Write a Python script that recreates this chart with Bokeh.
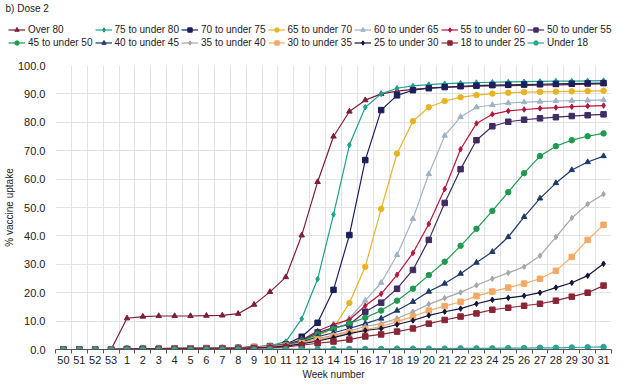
from bokeh.plotting import figure
from bokeh.models import (FixedTicker, SingleIntervalTicker, Legend, LegendItem,
                          Range1d, ColumnDataSource, NumeralTickFormatter)
from bokeh.embed import file_html
from bokeh.resources import INLINE

weeks = ["50", "51", "52", "53", "1", "2", "3", "4", "5", "6", "7", "8", "9", "10",
         "11", "12", "13", "14", "15", "16", "17", "18", "19", "20", "21", "22",
         "23", "24", "25", "26", "27", "28", "29", "30", "31"]

series_names = ["Over 80", "75 to under 80", "70 to under 75", "65 to under 70",
                "60 to under 65", "55 to under 60", "50 to under 55",
                "45 to under 50", "40 to under 45", "35 to under 40",
                "30 to under 35", "25 to under 30", "18 to under 25", "Under 18"]

over_80 = [0, 0, 0, 0, 11.0, 11.6, 11.8, 11.8, 11.8, 11.9, 12.0, 12.6, 15.8, 20.3,
           25.5, 40.2, 59.0, 75.0, 83.8, 87.8, 90.0, 91.0, 91.6, 92.0, 92.3, 92.5,
           92.7, 92.8, 92.9, 93.0, 93.1, 93.2, 93.3, 93.4, 93.5]
age_75_80 = [0, 0, 0, 0, 0.1, 0.2, 0.2, 0.3, 0.3, 0.4, 0.4, 0.5, 0.8, 1.3,
             2.8, 10.8, 24.8, 47.5, 72.0, 85.3, 90.0, 92.0, 92.8, 93.3, 93.6, 93.8,
             94.0, 94.1, 94.2, 94.3, 94.4, 94.5, 94.5, 94.6, 94.7]
age_70_75 = [0, 0, 0, 0, 0.1, 0.2, 0.2, 0.3, 0.3, 0.4, 0.4, 0.5, 0.7, 1.0,
             1.8, 4.5, 9.4, 21.0, 40.3, 66.7, 84.3, 89.5, 91.3, 92.0, 92.4, 92.7,
             92.9, 93.1, 93.2, 93.3, 93.4, 93.5, 93.6, 93.7, 93.8]
age_65_70 = [0, 0, 0, 0, 0.1, 0.2, 0.2, 0.3, 0.3, 0.4, 0.4, 0.5, 0.7, 1.0,
             1.6, 3.0, 4.8, 7.5, 16.4, 29.1, 49.5, 69.0, 80.4, 85.3, 87.5, 88.8,
             89.6, 90.1, 90.4, 90.6, 90.7, 90.8, 90.9, 91.0, 91.1]
age_60_65 = [0, 0, 0, 0, 0.2, 0.3, 0.3, 0.4, 0.4, 0.5, 0.5, 0.6, 0.9, 1.3,
             1.9, 3.4, 5.5, 7.9, 11.0, 17.2, 23.5, 33.3, 46.0, 61.8, 75.3, 81.9,
             85.3, 86.1, 86.8, 87.1, 87.3, 87.5, 87.6, 87.7, 87.9]
age_55_60 = [0, 0, 0, 0, 0.2, 0.3, 0.3, 0.4, 0.4, 0.5, 0.5, 0.6, 0.9, 1.2,
             1.8, 3.3, 6.5, 8.8, 10.5, 15.4, 19.6, 26.3, 34.0, 44.2, 56.5, 70.5,
             79.6, 82.8, 84.0, 84.5, 84.9, 85.2, 85.5, 85.7, 85.9]
age_50_55 = [0, 0, 0, 0, 0.2, 0.3, 0.3, 0.4, 0.4, 0.5, 0.5, 0.6, 0.9, 1.2,
             1.7, 3.1, 6.0, 7.6, 8.8, 13.3, 16.5, 21.4, 28.0, 38.6, 51.6, 63.5,
             73.7, 78.6, 80.2, 80.9, 81.4, 81.8, 82.2, 82.5, 82.8]
age_45_50 = [0, 0, 0, 0, 0.2, 0.3, 0.3, 0.3, 0.4, 0.4, 0.5, 0.6, 0.8, 1.1,
             1.6, 2.9, 5.4, 7.3, 9.2, 11.2, 13.7, 17.2, 21.4, 26.2, 30.9, 36.5,
             42.5, 48.8, 55.4, 62.1, 68.1, 71.6, 73.7, 75.1, 76.1]
age_40_45 = [0, 0, 0, 0, 0.2, 0.3, 0.3, 0.3, 0.4, 0.4, 0.5, 0.6, 0.8, 1.0,
             1.5, 2.6, 4.5, 5.9, 7.4, 9.1, 10.9, 13.7, 16.8, 20.4, 23.2, 26.7,
             30.6, 34.4, 39.6, 46.7, 53.2, 58.6, 63.2, 66.0, 68.1]
age_35_40 = [0, 0, 0, 0, 0.2, 0.3, 0.3, 0.3, 0.4, 0.4, 0.5, 0.5, 0.7, 1.0,
             1.4, 2.4, 3.8, 5.0, 6.5, 8.1, 9.1, 10.9, 13.3, 15.9, 18.1, 20.1,
             22.6, 24.9, 27.0, 29.1, 33.0, 39.6, 46.3, 51.2, 54.7]
age_30_35 = [0, 0, 0, 0, 0.1, 0.2, 0.3, 0.3, 0.3, 0.4, 0.4, 0.5, 0.7, 0.9,
             1.3, 2.2, 3.5, 4.6, 6.0, 7.0, 8.1, 9.8, 11.6, 13.7, 15.3, 16.8,
             18.8, 20.4, 21.8, 23.2, 24.9, 27.7, 32.6, 38.6, 43.9]
age_25_30 = [0, 0, 0, 0, 0.1, 0.2, 0.2, 0.3, 0.3, 0.3, 0.4, 0.4, 0.6, 0.8,
             1.2, 2.0, 3.0, 4.2, 5.6, 6.7, 7.4, 8.8, 10.2, 12.0, 13.3, 14.4,
             16.1, 17.5, 18.2, 18.9, 20.0, 21.8, 23.5, 26.0, 30.2]
age_18_25 = [0, 0, 0, 0, 0.1, 0.1, 0.2, 0.2, 0.2, 0.3, 0.3, 0.3, 0.5, 0.6,
             0.9, 1.5, 2.2, 2.8, 3.5, 4.6, 5.3, 6.3, 7.4, 9.1, 10.4, 11.6,
             12.7, 14.0, 14.7, 15.4, 16.1, 17.2, 18.6, 20.0, 22.5]
under_18 = [0, 0, 0, 0, 0, 0, 0, 0, 0, 0, 0, 0, 0, 0.1,
            0.1, 0.1, 0.1, 0.2, 0.2, 0.2, 0.2, 0.3, 0.3, 0.3, 0.3, 0.4,
            0.4, 0.4, 0.5, 0.5, 0.6, 0.6, 0.7, 0.8, 0.9]

series_values = [over_80, age_75_80, age_70_75, age_65_70, age_60_65, age_55_60,
                 age_50_55, age_45_50, age_40_45, age_35_40, age_30_35, age_25_30,
                 age_18_25, under_18]

colors = ["#7d1d38", "#1fa08f", "#1b1f5e", "#e8b422", "#9db3c8", "#b8143e",
          "#402b63", "#1f9a50", "#1d3a6e", "#a6a6ab", "#f3a964", "#12163a",
          "#8a2535", "#27a596"]
markers = ["triangle", "diamond", "square", "circle", "triangle", "diamond",
           "square", "circle", "triangle", "diamond", "square", "diamond",
           "square", "circle"]

FONT = "Liberation Sans"
TXT = "#222222"
n = len(weeks)
xs = list(range(n))
sources = [ColumnDataSource(dict(x=xs, y=vals)) for vals in series_values]


def add_series(fig):
    out = []
    for src, col, mk in zip(sources, colors, markers):
        r1 = fig.line("x", "y", source=src, line_color=col, line_width=1.2)
        r2 = fig.scatter("x", "y", source=src, marker=mk, size=5.5, fill_color=col,
                         line_color=col, line_width=1)
        out.append([r1, r2])
    return out


# ---- header figure: title + legend (its own copies of the series are kept out of view)
head = figure(width=618, height=51, output_backend="svg", toolbar_location=None,
              x_range=Range1d(1000, 1001), y_range=Range1d(1000, 1001),
              x_axis_location=None, y_axis_location=None)
head.grid.visible = False
head.outline_line_color = None
head.min_border_left = 0
head.min_border_right = 0
head.min_border_top = 6
head.min_border_bottom = 0
head.title.text = "b) Dose 2"
head.title.text_font = FONT
head.title.text_font_size = "10px"
head.title.text_font_style = "normal"
head.title.text_color = TXT
head.title.standoff = 0
head.title.offset = 5

head_rs = add_series(head)
items = [LegendItem(label=nm, renderers=rs) for nm, rs in zip(series_names, head_rs)]
legend = Legend(items=items, orientation="horizontal", nrows=2, location=(8, 3))
legend.label_text_font = FONT
legend.label_text_font_size = "10px"
legend.label_text_color = TXT
legend.label_height = 11
legend.label_standoff = 3
legend.glyph_width = 17
legend.glyph_height = 11
legend.spacing = 2
legend.padding = 0
legend.margin = 0
legend.border_line_color = None
legend.background_fill_alpha = 0
head.add_layout(legend, "center")

# ---- main chart
p = figure(frame_width=556, frame_height=284, output_backend="svg",
           toolbar_location=None,
           x_range=Range1d(-0.5, n - 0.5), y_range=Range1d(0, 100))
p.min_border_left = 45
p.min_border_right = 17
p.min_border_top = 14
p.min_border_bottom = 27
p.outline_line_color = None
add_series(p)

# x axis
p.xaxis.ticker = FixedTicker(ticks=xs, minor_ticks=[i - 0.5 for i in range(n + 1)])
p.xaxis.major_label_overrides = {i: w for i, w in enumerate(weeks)}
p.xaxis.major_tick_line_color = None
p.xaxis.major_tick_out = 0
p.xaxis.major_tick_in = 0
p.xaxis.minor_tick_line_color = "#555555"
p.xaxis.minor_tick_out = 4
p.xaxis.minor_tick_in = 0
p.xaxis.axis_line_color = "#555555"
p.xaxis.major_label_text_font = FONT
p.xaxis.major_label_text_font_size = "11px"
p.xaxis.major_label_text_color = TXT
p.xaxis.major_label_standoff = 2
p.xaxis.axis_label = "Week number"
p.xaxis.axis_label_text_font = FONT
p.xaxis.axis_label_text_font_size = "10px"
p.xaxis.axis_label_text_font_style = "normal"
p.xaxis.axis_label_text_color = TXT
p.xaxis.axis_label_standoff = 2
p.xgrid.ticker = FixedTicker(ticks=[i - 0.5 for i in range(n + 1)])
p.xgrid.grid_line_color = "#e3e3e3"

# y axis
p.yaxis.ticker = SingleIntervalTicker(interval=10)
p.yaxis.formatter = NumeralTickFormatter(format="0.0")
p.yaxis.major_tick_line_color = None
p.yaxis.major_tick_out = 0
p.yaxis.minor_tick_line_color = None
p.yaxis.axis_line_color = None
p.yaxis.major_label_text_font = FONT
p.yaxis.major_label_text_font_size = "11px"
p.yaxis.major_label_text_color = TXT
p.yaxis.major_label_standoff = 6
p.yaxis.axis_label = "% vaccine uptake"
p.yaxis.axis_label_text_font = FONT
p.yaxis.axis_label_text_font_size = "10px"
p.yaxis.axis_label_text_font_style = "normal"
p.yaxis.axis_label_text_color = TXT
p.yaxis.axis_label_standoff = 0
p.ygrid.grid_line_color = "#e3e3e3"

open("out.html", "w").write(file_html([head, p], INLINE))
